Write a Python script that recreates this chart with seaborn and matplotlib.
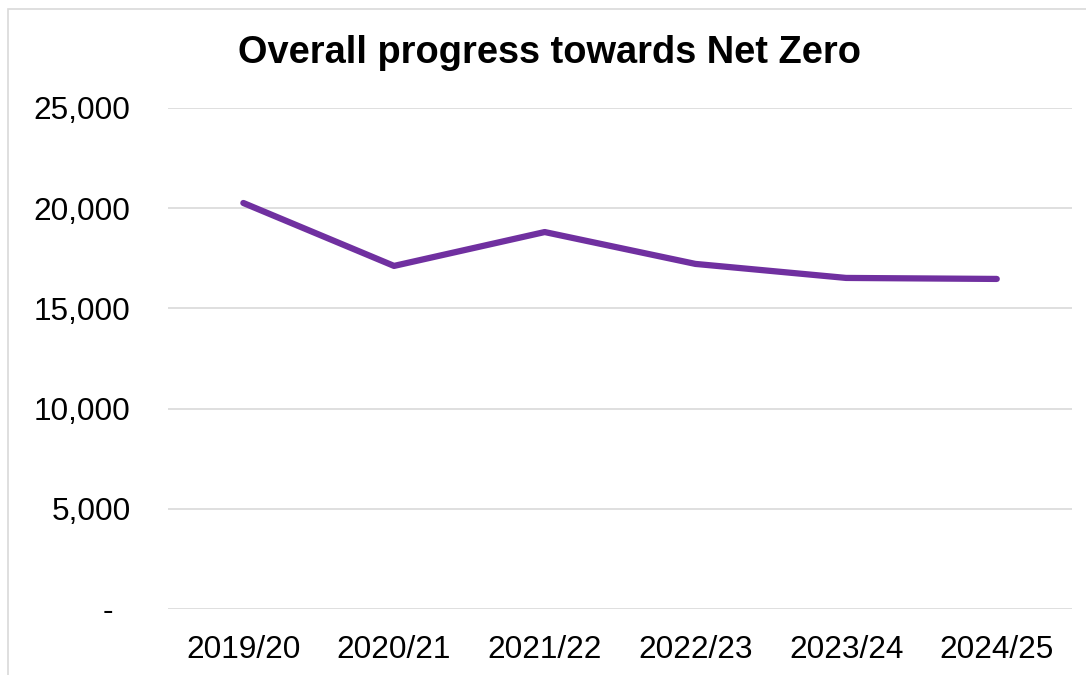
import matplotlib
matplotlib.use("Agg")
import matplotlib.pyplot as plt
import seaborn as sns
import pandas as pd
from matplotlib.patches import Rectangle
from matplotlib.ticker import FuncFormatter

years = ["2019/20", "2020/21", "2021/22", "2022/23", "2023/24", "2024/25"]
emissions = [20260, 17120, 18810, 17220, 16520, 16470]

sns.set_theme(style="white")
plt.rcParams['font.family'] = ['Liberation Sans', 'DejaVu Sans']

df = pd.DataFrame({"year": years, "value": emissions})

fig = plt.figure(figsize=(10.86, 6.75), dpi=100)
ax = fig.add_axes([0.1547, 0.0978, 0.8325, 0.7422])

sns.lineplot(data=df, x="year", y="value", ax=ax, color="#7030A0",
             linewidth=4.5, solid_capstyle="round", solid_joinstyle="round")

ax.set_xlim(-0.5, len(years) - 0.5)
ax.set_ylim(0, 25000)
ax.set_yticks([0, 5000, 10000, 15000, 20000, 25000])
ax.yaxis.set_major_formatter(FuncFormatter(lambda v, p: "-  " if v == 0 else f"{int(v):,}"))
ax.grid(axis="y", color="#d9d9d9", linewidth=1.2)
ax.set_axisbelow(True)
for s in ax.spines.values():
    s.set_visible(False)
ax.tick_params(axis="both", length=0, labelsize=22.8, colors="black")
ax.tick_params(axis="y", pad=27)
ax.tick_params(axis="x", pad=19)
ax.set_xlabel("")
ax.set_ylabel("")

fig.text(0.506, 0.922, "Overall progress towards Net Zero", ha="center", va="center",
         fontsize=27.4, fontweight="bold", color="black")

fig.patches.append(Rectangle((8 / 1086, -0.01), 1.02, 1 - 9 / 675 + 0.01,
                             transform=fig.transFigure, fill=False,
                             edgecolor="#d9d9d9", linewidth=1.2))

fig.savefig("out.png", dpi=100, facecolor="white")
